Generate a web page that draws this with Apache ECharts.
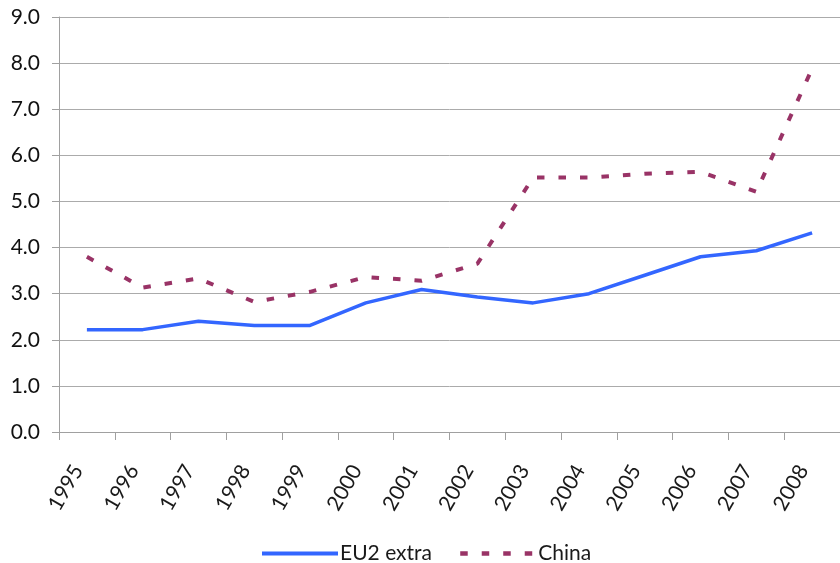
<!DOCTYPE html>
<html>
<head>
<meta charset="utf-8">
<script src="https://cdn.jsdelivr.net/npm/echarts@6/dist/echarts.min.js"></script>
<style>
html,body{margin:0;padding:0;background:#fff;}
#chart{width:840px;height:563px;}
</style>
</head>
<body>
<div id="chart"></div>
<script>
var categories = ['1995','1996','1997','1998','1999','2000','2001','2002','2003','2004','2005','2006','2007','2008'];
var eu2Extra = [2.22, 2.22, 2.40, 2.31, 2.31, 2.80, 3.09, 2.93, 2.80, 3.00, 3.40, 3.80, 3.93, 4.32];
var china = [3.80, 3.13, 3.33, 2.82, 3.04, 3.36, 3.28, 3.65, 5.52, 5.52, 5.60, 5.64, 5.21, 7.88];
var seriesNames = ['EU2 extra', 'China'];

var FONT = 'Lato';
var BLUE = '#3366ff', MAROON = '#993366';
var chart = echarts.init(document.getElementById('chart'), null, {renderer: 'canvas'});
chart.setOption({
  animation: false,
  backgroundColor: '#ffffff',
  grid: {left: 59, right: -5, top: 17, bottom: 131, containLabel: false},
  legend: {
    left: 255, top: 538, padding: 5,
    itemWidth: 76, itemHeight: 20, itemGap: 26,
    itemStyle: {opacity: 0},
    textStyle: {fontFamily: FONT, fontSize: 21, color: '#1a1a1a', padding: [0, 0, 0, -3]},
    data: [
      {name: seriesNames[0], lineStyle: {color: BLUE, width: 4, type: 'solid'}},
      {name: seriesNames[1], lineStyle: {color: MAROON, width: 4.5, type: [7.5, 14], cap: 'butt'}}
    ]
  },
  xAxis: {
    type: 'category',
    data: categories,
    boundaryGap: true,
    axisLine: {lineStyle: {color: '#a0a0a0', width: 1}},
    axisTick: {show: true, alignWithLabel: false, length: 8, lineStyle: {color: '#a0a0a0'}},
    axisLabel: {
      interval: 0, rotate: 60, margin: 19,
      padding: [0, 18, 0, 0],
      fontFamily: FONT, fontSize: 21, color: '#1a1a1a'
    },
    splitLine: {show: false}
  },
  yAxis: {
    type: 'value',
    min: 0, max: 9, interval: 1,
    axisLine: {show: true, lineStyle: {color: '#a0a0a0', width: 1}},
    axisTick: {show: true, length: 7, lineStyle: {color: '#a0a0a0'}},
    axisLabel: {
      margin: 19, fontFamily: FONT, fontSize: 21, color: '#111111',
      formatter: function (v) { return v.toFixed(1); }
    },
    splitLine: {show: true, lineStyle: {color: '#ababab', width: 1}}
  },
  series: [
    {
      name: seriesNames[0], type: 'line', data: eu2Extra,
      symbol: 'none', smooth: false,
      itemStyle: {color: BLUE},
      lineStyle: {color: BLUE, width: 3.5}
    },
    {
      name: seriesNames[1], type: 'line', data: china,
      symbol: 'none', smooth: false,
      itemStyle: {color: MAROON},
      lineStyle: {color: MAROON, width: 4, type: [7.5, 14], cap: 'butt'}
    }
  ]
});
</script>
</body>
</html>
